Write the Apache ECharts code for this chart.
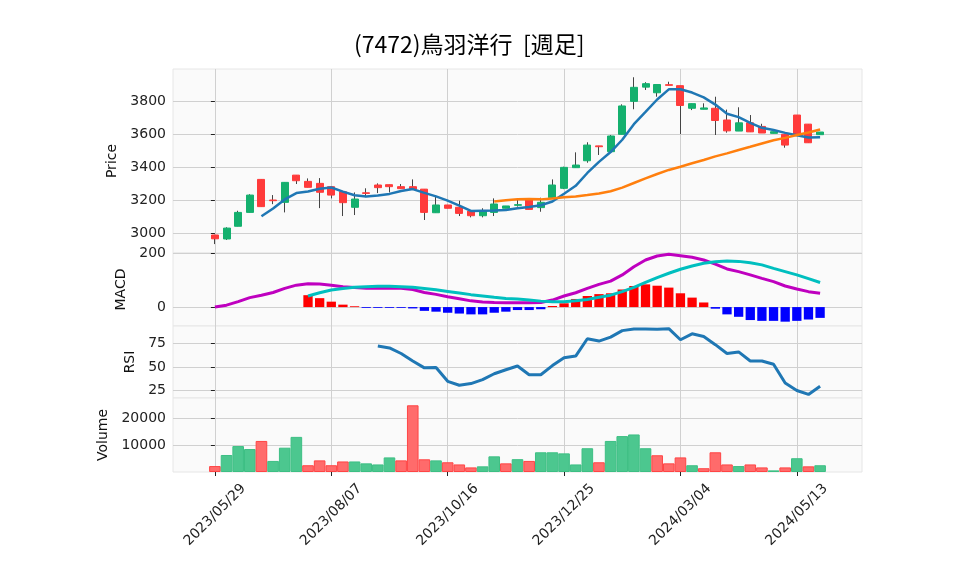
<!DOCTYPE html>
<html>
<head>
<meta charset="utf-8">
<script src="https://cdn.jsdelivr.net/npm/echarts@6/dist/echarts.min.js"></script>
<style>
html, body { margin: 0; padding: 0; background: #fff; }
#main { width: 958px; height: 575px; }
</style>
</head>
<body>
<div id="main"></div>
<script>
// weekly bars, 2023/05/29 - 2024/05/27
var dates = ['2023/05/29','2023/06/05','2023/06/12','2023/06/19','2023/06/26','2023/07/03','2023/07/10','2023/07/17',
    '2023/07/24','2023/07/31','2023/08/07','2023/08/14','2023/08/21','2023/08/28','2023/09/04','2023/09/11',
    '2023/09/18','2023/09/25','2023/10/02','2023/10/09','2023/10/16','2023/10/23','2023/10/30','2023/11/06',
    '2023/11/13','2023/11/20','2023/11/27','2023/12/04','2023/12/11','2023/12/18','2023/12/25','2024/01/01',
    '2024/01/08','2024/01/15','2024/01/22','2024/01/29','2024/02/05','2024/02/12','2024/02/19','2024/02/26',
    '2024/03/04','2024/03/11','2024/03/18','2024/03/25','2024/04/01','2024/04/08','2024/04/15','2024/04/22',
    '2024/04/29','2024/05/06','2024/05/13','2024/05/20','2024/05/27'];
var dateTicks = [0, 10, 20, 30, 40, 50];

var opens  = [2988,2964,3041,3125,3325,3200,3186,3351,3313,3301,3281,3250,3156,3244,3291,3293,3281,3281,3266,3123,
              3170,3156,3133,3105,3125,3150,3168,3204,3154,3214,3271,3396,3438,3528,3493,3598,3798,3884,3850,3899,
              3893,3756,3750,3756,3685,3618,3668,3646,3604,3598,3715,3660,3596];
var closes = [2965,3030,3125,3230,3160,3196,3307,3317,3277,3247,3230,3184,3206,3240,3275,3281,3269,3267,3125,3170,
              3150,3119,3105,3133,3176,3164,3172,3143,3186,3291,3398,3412,3533,3523,3588,3770,3883,3905,3900,3895,
              3773,3784,3758,3682,3619,3668,3613,3606,3614,3533,3594,3547,3612];
var lows   = [2933,2958,3041,3125,3160,3175,3125,3297,3277,3151,3210,3103,3109,3217,3242,3246,3269,3267,3079,3123,
              3150,3103,3095,3095,3103,3150,3160,3143,3129,3214,3266,3396,3426,3473,3493,3598,3750,3867,3826,3895,
              3600,3745,3750,3594,3608,3618,3612,3606,3604,3517,3594,3547,3596];
var highs  = [2990,3035,3135,3235,3325,3230,3307,3351,3331,3333,3281,3250,3246,3271,3301,3293,3297,3325,3266,3220,
              3170,3196,3133,3150,3210,3164,3210,3204,3214,3325,3402,3489,3550,3528,3594,3780,3944,3914,3902,3917,
              3893,3784,3786,3826,3748,3762,3715,3662,3614,3598,3715,3660,3612];
var volumes = [2200,6300,9600,8500,11500,4100,9000,13000,2500,4300,2500,3900,3900,3200,2800,5400,4300,24700,4700,4300,
               3600,2800,1700,2100,5800,3200,4750,4100,7300,7300,6900,2800,8800,3600,11500,13300,13900,8800,6200,3200,
               5400,2500,1400,7300,2800,2200,2800,1700,600,1700,5100,2100,2500];

var macdLine = [0,7,20,35,44,54,69,81,86,85,81,75,72,70,70,70,70,65,54,47,38,31,23,19,17,16,16,16,17,26,
                41,53,69,84,96,119,149,174,189,195,190,184,174,159,141,131,119,106,94,78,67,57,51];
var signalLine = [null,null,null,null,null,null,null,null,41,53,63,69,73,75,77,77,75,73,69,64,58,52,46,41,36,32,30,26,22,20,
                  20,23,28,36,44,57,73,91,109,125,140,152,162,168,170,169,164,156,143,131,119,105,91];
var macdHist = [null,null,null,null,null,null,null,null,44,33,20,9,3,-3,-3,-3,-3,-5,-14,-17,-21,-24,-27,-27,-21,-17,-11,-11,-8,4,
                14,30,41,48,51,65,78,84,79,72,51,35,17,-6,-27,-36,-48,-51,-51,-54,-51,-46,-40];
var rsi = [null,null,null,null,null,null,null,null,null,null,null,null,null,null,72.2,70.1,64.2,56.3,49,49.3,
           34.7,30.5,32.3,36.5,42.7,47,51,41.7,41.7,51.4,59.7,61.5,79.9,77.4,81.6,88.5,90.3,90.3,89.9,90.6,
           78.8,85.1,82.3,73.6,64.2,65.9,56.3,56.3,52.8,33,25,20.8,29.5];

var UP = '#14B06E', DOWN = '#FF3B3B';
var FONT = 'DejaVu Sans';

function movingAvg(n) {
    var out = [];
    for (var i = n - 1; i < closes.length; i++) {
        var s = 0;
        for (var k = i - n + 1; k <= i; k++) s += closes[k];
        out.push([i, s / n]);
    }
    return out;
}
function pairs(arr) {
    var out = [];
    arr.forEach(function (v, i) { if (v != null) out.push([i, v]); });
    return out;
}

var wickData = [], bodyData = [], volData = [], histData = [];
for (var i = 0; i < dates.length; i++) {
    wickData.push([i, opens[i], closes[i], lows[i], highs[i]]);
    bodyData.push([i, opens[i], closes[i], Math.min(opens[i], closes[i]), Math.max(opens[i], closes[i])]);
    var ref = i === 0 ? opens[0] : closes[i - 1];
    var up = closes[i] >= ref;
    volData.push({
        value: [i, volumes[i]],
        itemStyle: up ? {color: '#4CC78F', borderColor: '#3DBF84'} : {color: '#FF6B6B', borderColor: '#FF4545'}
    });
    if (macdHist[i] != null) {
        histData.push({value: [i, macdHist[i]], itemStyle: {color: macdHist[i] >= 0 ? '#FF0000' : '#0000FF'}});
    }
}

var panels = [
    {top: 69, height: 184},
    {top: 253, height: 73},
    {top: 326, height: 72},
    {top: 398, height: 74}
];
var grids = panels.map(function (p) {
    return {left: 173, right: 96, top: p.top, height: p.height, show: true,
        backgroundColor: '#FAFAFA', borderColor: '#E6E6E6', borderWidth: 1};
});
var xAxes = panels.map(function (p, k) {
    return {
        type: 'value', gridIndex: k, min: -3.6, max: 55.6,
        axisLine: {show: false},
        axisTick: {show: k === 3, length: 4, customValues: dateTicks, lineStyle: {color: '#222'}},
        axisLabel: {show: k === 3, customValues: dateTicks, rotate: 45, margin: 43,
            align: 'center', verticalAlign: 'middle',
            fontFamily: FONT, fontSize: 14, color: '#222',
            formatter: function (v) { return dates[v] || ''; }},
        splitLine: {show: true, lineStyle: {color: '#D0D0D0', width: 1}}
    };
});
function yAxis(k, min, max, ticks, name, gap) {
    return {
        type: 'value', gridIndex: k, min: min, max: max,
        name: name, nameLocation: 'middle', nameGap: gap,
        nameTextStyle: {fontFamily: FONT, fontSize: 14, color: '#111'},
        axisLine: {show: false},
        axisTick: {show: true, length: 4, customValues: ticks, lineStyle: {color: '#222'}},
        axisLabel: {customValues: ticks, fontFamily: FONT, fontSize: 14, color: '#222', margin: 7,
            formatter: function (v) { return String(v); }},
        splitLine: {show: true, lineStyle: {color: '#D0D0D0', width: 1}}
    };
}

var chart = echarts.init(document.getElementById('main'));
chart.setOption({
    animation: false,
    backgroundColor: '#fff',
    title: {
        text: '(7472)鳥羽洋行  [週足]',
        left: 349, top: 28,
        textStyle: {fontFamily: 'Noto Sans CJK JP', fontSize: 23, fontWeight: 'normal', color: '#000'}
    },
    grid: grids,
    xAxis: xAxes,
    yAxis: [
        yAxis(0, 2879, 3994, [3000, 3200, 3400, 3600, 3800], 'Price', 44),
        yAxis(1, -70, 200, [0, 200], 'MACD', 41),
        yAxis(2, 17, 93.4, [25, 50, 75], 'RSI', 33),
        yAxis(3, 0, 27400, [10000, 20000], 'Volume', 57)
    ],
    series: [
        {
            type: 'candlestick', xAxisIndex: 0, yAxisIndex: 0, barWidth: 1,
            dimensions: ['idx', 'open', 'close', 'low', 'high'],
            encode: {x: 'idx', y: ['open', 'close', 'low', 'high']},
            itemStyle: {color: '#444', color0: '#444', borderColor: '#444', borderColor0: '#444', borderWidth: 1},
            data: wickData
        },
        {
            type: 'candlestick', xAxisIndex: 0, yAxisIndex: 0, barWidth: 7.5,
            dimensions: ['idx', 'open', 'close', 'low', 'high'],
            encode: {x: 'idx', y: ['open', 'close', 'low', 'high']},
            itemStyle: {color: UP, color0: DOWN, borderColor: UP, borderColor0: DOWN, borderWidth: 1},
            data: bodyData
        },
        {
            type: 'line', xAxisIndex: 0, yAxisIndex: 0, data: movingAvg(5), showSymbol: false,
            lineStyle: {color: '#1F77B4', width: 2.5}
        },
        {
            type: 'line', xAxisIndex: 0, yAxisIndex: 0, data: movingAvg(25), showSymbol: false,
            lineStyle: {color: '#FF7F0E', width: 2.5}
        },
        {
            type: 'bar', xAxisIndex: 1, yAxisIndex: 1, barWidth: 9.3, data: histData
        },
        {
            type: 'line', xAxisIndex: 1, yAxisIndex: 1, data: pairs(macdLine), showSymbol: false,
            lineStyle: {color: '#BF00BF', width: 3}
        },
        {
            type: 'line', xAxisIndex: 1, yAxisIndex: 1, data: pairs(signalLine), showSymbol: false,
            lineStyle: {color: '#00BFBF', width: 3}
        },
        {
            type: 'line', xAxisIndex: 2, yAxisIndex: 2, data: pairs(rsi), showSymbol: false,
            lineStyle: {color: '#1F77B4', width: 3}
        },
        {
            type: 'bar', xAxisIndex: 3, yAxisIndex: 3, barWidth: 11.6, data: volData,
            itemStyle: {borderWidth: 1}
        }
    ]
});
</script>
</body>
</html>
